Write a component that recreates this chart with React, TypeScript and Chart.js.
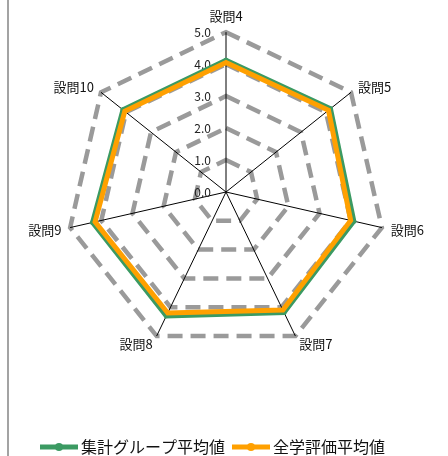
import React, { useEffect, useRef } from 'react';
import { Chart, registerables } from 'chart.js';

Chart.register(...registerables);

const CATEGORIES = ['設問4', '設問5', '設問6', '設問7', '設問8', '設問9', '設問10'];
const GROUP_LABEL = '集計グループ平均値';
const ALL_LABEL = '全学評価平均値';
const GROUP_VALUES = [4.12, 4.18, 4.1, 4.18, 4.3, 4.28, 4.12];
const ALL_VALUES = [4.05, 4.1, 4.0, 4.1, 4.2, 4.2, 4.05];
const SCALE_MIN = 0;
const SCALE_MAX = 5;
const SCALE_STEP = 1;

const GREEN = '#3b9a62';
const ORANGE = '#ffa000';
const FONT = "'Noto Sans CJK JP', 'Noto Sans', sans-serif";

function makeLegendImage(color: string): HTMLCanvasElement {
  const c = document.createElement('canvas');
  c.width = 38;
  c.height = 10;
  const ctx = c.getContext('2d')!;
  ctx.strokeStyle = color;
  ctx.lineWidth = 5;
  ctx.beginPath();
  ctx.moveTo(0, 5);
  ctx.lineTo(38, 5);
  ctx.stroke();
  ctx.fillStyle = color;
  ctx.beginPath();
  ctx.arc(19, 5, 4, 0, Math.PI * 2);
  ctx.fill();
  return c;
}

export default function App() {
  const ref = useRef<HTMLCanvasElement | null>(null);

  useEffect(() => {
    if (!ref.current) return;
    const images = [makeLegendImage(GREEN), makeLegendImage(ORANGE)];

    const legendPlace = {
      id: 'legendPlace',
      afterLayout(chart: any) {
        const lg = chart.legend;
        if (!lg) return;
        const dx = 24 - lg.left;
        lg.left += dx;
        lg.right += dx;
        const dy = 427 - lg.top;
        lg.top += dy;
        lg.bottom += dy;
      },
    };

    const tickText = {
      id: 'tickText',
      beforeDatasetsDraw(chart: any) {
        const s = chart.scales.r;
        const ctx = chart.ctx;
        ctx.save();
        ctx.font = `12px ${FONT}`;
        ctx.fillStyle = '#222';
        ctx.textAlign = 'right';
        ctx.textBaseline = 'middle';
        s.ticks.forEach((t: any) => {
          const d = s.getDistanceFromCenterForValue(t.value);
          ctx.fillText(Number(t.value).toFixed(1), s.xCenter - 15, s.yCenter - d);
        });
        ctx.restore();
      },
    };

    const chart = new Chart(ref.current, {
      type: 'radar',
      data: {
        labels: CATEGORIES,
        datasets: [
          {
            label: GROUP_LABEL,
            data: GROUP_VALUES,
            borderColor: GREEN,
            backgroundColor: GREEN,
            pointBackgroundColor: GREEN,
            pointBorderColor: GREEN,
            borderWidth: 5,
            pointRadius: 2.5,
            pointBorderWidth: 0,
            fill: false,
            order: 1,
          },
          {
            label: ALL_LABEL,
            data: ALL_VALUES,
            borderColor: ORANGE,
            backgroundColor: ORANGE,
            pointBackgroundColor: ORANGE,
            pointBorderColor: ORANGE,
            borderWidth: 5,
            pointRadius: 0,
            fill: false,
            order: 0,
          },
        ],
      },
      options: {
        animation: false,
        responsive: false,
        layout: { padding: { top: 8, left: 0, right: 4, bottom: 58 } },
        scales: {
          r: {
            min: SCALE_MIN,
            max: SCALE_MAX,
            ticks: { stepSize: SCALE_STEP, display: false },
            grid: { color: '#9a9a9a', lineWidth: 4.5 },
            border: { dash: [15, 8] } as any,
            angleLines: { color: '#000', lineWidth: 1 },
            pointLabels: {
              color: '#111',
              font: { family: FONT, size: 13, lineHeight: 0.01 },
              padding: (ctx: any) => (ctx.index === 0 ? 16 : 9),
            },
          },
        },
        plugins: {
          tooltip: { enabled: false },
          legend: {
            position: 'bottom',
            align: 'start',
            labels: {
              usePointStyle: true,
              pointStyleWidth: 28,
              padding: 12,
              color: '#111',
              font: { family: FONT, size: 16 },
              sort: (a: any, b: any) => a.datasetIndex - b.datasetIndex,
              generateLabels: (c: any) =>
                (Chart.defaults.plugins.legend.labels.generateLabels as any)(c).map((it: any) => ({
                  ...it,
                  pointStyle: images[it.datasetIndex],
                })),
            },
          },
        },
      },
      plugins: [legendPlace, tickText],
    } as any);

    return () => chart.destroy();
  }, []);

  return (
    <div style={{ position: 'fixed', left: 0, top: 0, width: 448, height: 456, overflow: 'hidden', background: '#fff' }}>
      <div style={{ position: 'absolute', left: 7, top: 0, width: 2, height: 456, background: '#a3a3a3' }} />
      <canvas ref={ref} width={439} height={456} style={{ position: 'absolute', left: 9, top: 0, width: 439, height: 456 }} />
    </div>
  );
}
